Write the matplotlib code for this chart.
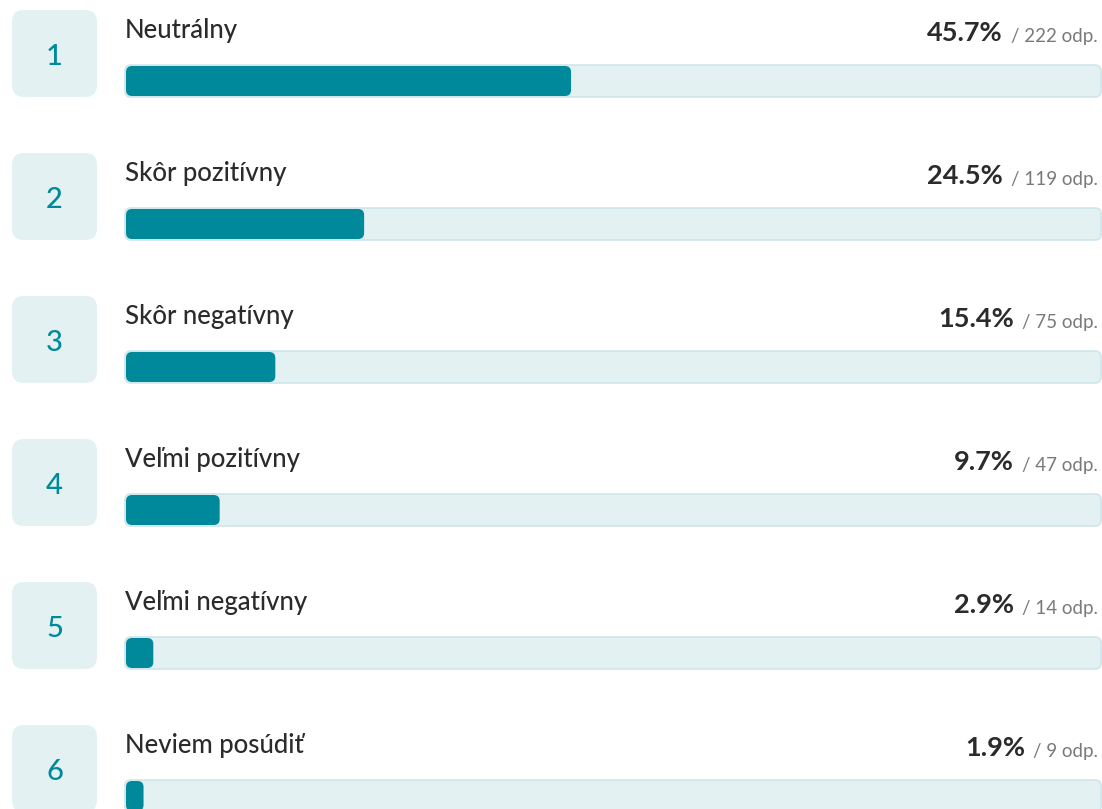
import matplotlib.pyplot as plt
from matplotlib.patches import FancyBboxPatch

# ── Data ──────────────────────────────────────────────────────────────────────
LABELS  = ['Neutrálny', 'Skôr pozitívny', 'Skôr negatívny',
           'Veľmi pozitívny', 'Veľmi negatívny', 'Neviem posúdiť']
PCTS    = [45.7, 24.5, 15.4, 9.7, 2.9, 1.9]
COUNTS  = [222, 119, 75, 47, 14, 9]

# ── Style ─────────────────────────────────────────────────────────────────────
W, H      = 1102, 809
ROW_STEP  = 143
TOP       = 10
TEAL      = '#00899a'
PALE      = '#e3f1f3'
EDGE      = '#cfe6ea'
DARK      = '#2b2b2b'
GREY      = '#7a7a7a'
TRACK_X0, TRACK_X1 = 125, 1101
FONT      = 'Lato'

fig = plt.figure(figsize=(W / 100, H / 100), dpi=100)
ax = fig.add_axes([0, 0, 1, 1])
ax.set_xlim(0, W)
ax.set_ylim(H, 0)
ax.axis('off')

track_w = TRACK_X1 - TRACK_X0
for i, (lab, pct, n) in enumerate(zip(LABELS, PCTS, COUNTS)):
    y0 = TOP + i * ROW_STEP

    # number tile
    ax.add_patch(FancyBboxPatch((12 + 12, y0 + 12), 85 - 24, 87 - 24,
                                boxstyle='round,pad=12', fc=PALE, ec='none'))
    ax.text(54.5, y0 + 47, str(i + 1), ha='center', va='center',
            fontsize=21, color=TEAL, family=FONT, fontweight='medium')

    # label
    ax.text(TRACK_X0, y0 + 28, lab, ha='left', va='baseline',
            fontsize=18.5, color=DARK, family=FONT, fontweight='medium')

    # track + fill
    ax.add_patch(FancyBboxPatch((TRACK_X0 + 6, y0 + 55 + 6), track_w - 12, 32 - 12,
                                boxstyle='round,pad=6', fc=PALE, ec=EDGE, lw=1.2))
    fill_w = track_w * pct / 100
    r = min(6, fill_w / 2 - 0.5)
    ax.add_patch(FancyBboxPatch((TRACK_X0 + 1 + r, y0 + 56 + r), fill_w - 2 * r - 1, 30 - 2 * r,
                                boxstyle=f'round,pad={r}', fc=TEAL, ec='none'))

    # value texts: count right-aligned, percentage placed just left of it
    t_n = ax.text(1098, y0 + 32, f'/ {n} odp.', ha='right', va='baseline',
                  fontsize=13.5, color=GREY, family=FONT)
    ax.annotate(f'{pct:.1f}%', xy=(0, 0), xycoords=t_n,
                xytext=(-6, 0), textcoords='offset points',
                ha='right', va='bottom', fontsize=19.5, fontweight='bold',
                color=DARK, family=FONT)

fig.savefig('out.png', dpi=100)
